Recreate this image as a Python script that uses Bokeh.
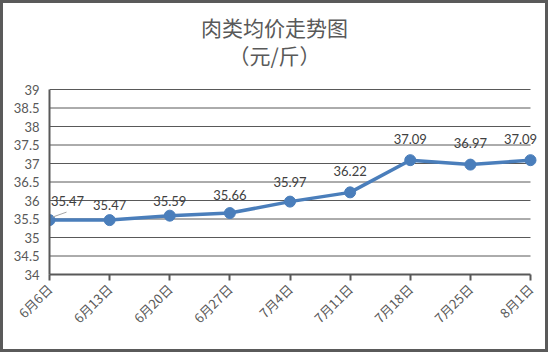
import math
from bokeh.plotting import figure
from bokeh.models import Range1d, FixedTicker, ColumnDataSource
from bokeh.core.properties import value
from bokeh.embed import file_html
from bokeh.resources import INLINE

dates = ["6月6日", "6月13日", "6月20日", "6月27日", "7月4日", "7月11日", "7月18日", "7月25日", "8月1日"]
prices = [35.47, 35.47, 35.59, 35.66, 35.97, 36.22, 37.09, 36.97, 37.09]
y_ticks = [34, 34.5, 35, 35.5, 36, 36.5, 37, 37.5, 38, 38.5, 39]
title_line1 = "肉类均价走势图"
title_line2 = "（元/斤）"

# data-label placement (pixels, style only)
label_dx = [18, 0, 0, 0, 0, 0, 0, 0, -10]
label_dy = [19, 15, 15, 18, 20, 21, 21, 22, 21]

xs = list(range(len(dates)))
labels = [f"{v:.2f}" for v in prices]

B = 3  # css border width
W, H = 548, 352
# plot area in canvas pixels (content is offset by the border)
PL, PR, PT, PB = 49 - B, 530 - B, 89 - B, 274 - B
FR, FT = W - 2 * B - 1, 1
n = len(dates) - 1
px_x = n / (PR - PL)
px_y = (y_ticks[-1] - y_ticks[0]) / (PB - PT)

p = figure(width=W, height=H, output_backend="svg", toolbar_location=None,
           x_range=Range1d(0, (FR - PL) * px_x),
           y_range=Range1d(y_ticks[0], y_ticks[-1] + (PT - FT) * px_y),
           min_border_left=PL, min_border_right=W - FR, min_border_top=FT, min_border_bottom=H - PB)
p.styles = {"border": f"{B}px solid #5a5a5a"}
p.outline_line_color = None
p.background_fill_color = "white"
p.border_fill_color = "white"

axc = "#595959"
# y axis
p.yaxis.ticker = FixedTicker(ticks=y_ticks)
p.yaxis.bounds = (y_ticks[0], y_ticks[-1])
p.yaxis.major_tick_out = 0
p.yaxis.major_tick_in = 0
p.yaxis.minor_tick_line_color = None
p.yaxis.axis_line_color = axc
p.yaxis.axis_line_width = 2
p.yaxis.major_label_standoff = 10
p.yaxis.major_label_text_font = "Lato"
p.yaxis.major_label_text_font_size = "13px"
p.yaxis.major_label_text_color = axc
p.ygrid.grid_line_color = None
p.xgrid.grid_line_color = None

# horizontal gridlines over the data span
p.multi_line(xs=[[0, n] for _ in y_ticks[1:]], ys=[[t, t] for t in y_ticks[1:]],
             line_color=axc, line_width=1)

# x axis
p.xaxis.ticker = FixedTicker(ticks=xs)
p.xaxis.bounds = (0, n)
p.xaxis.major_label_overrides = {i: d for i, d in enumerate(dates)}
p.xaxis.major_tick_out = 6
p.xaxis.major_tick_in = 0
p.xaxis.major_tick_line_color = axc
p.xaxis.major_tick_line_width = 2
p.xaxis.axis_line_color = axc
p.xaxis.axis_line_width = 2
p.xaxis.minor_tick_line_color = None
p.xaxis.major_label_orientation = math.pi / 4
p.xaxis.major_label_standoff = 6
p.xaxis.major_label_text_font = "Noto Sans CJK SC"
p.xaxis.major_label_text_font_size = "13px"
p.xaxis.major_label_text_color = axc

line_color = "#4a7ebb"
src = ColumnDataSource(dict(x=xs, y=prices))
p.line("x", "y", source=src, line_color=line_color, line_width=3.5)
p.scatter("x", "y", source=src, size=11, fill_color=line_color, line_color=line_color)

# leader line for the first data label
p.segment(x0=[xs[0] + 3 * px_x], y0=[prices[0] + 3 * px_y],
          x1=[xs[0] + 17 * px_x], y1=[prices[0] + 8 * px_y],
          line_color="#a6a6a6", line_width=1)

lab_src = ColumnDataSource(dict(x=xs, y=prices, label=labels, dx=label_dx,
                                dy=[-d for d in label_dy]))
p.text("x", "y", text="label", source=lab_src, text_align="center", text_baseline="middle",
       x_offset="dx", y_offset="dy", text_font=value("Lato"), text_font_size="13px",
       text_color="#404040")

# titles
cx = (274 - B - PL) * px_x
p.text(x=[cx, cx], y=[y_ticks[-1] + (PT - (26 - B)) * px_y, y_ticks[-1] + (PT - (54 - B)) * px_y],
       text=[title_line1, title_line2], text_align="center", text_baseline="middle",
       text_font=value("Noto Sans CJK SC"), text_font_size="21px", text_color="#595959")

open("out.html", "w").write(file_html(p, INLINE))
